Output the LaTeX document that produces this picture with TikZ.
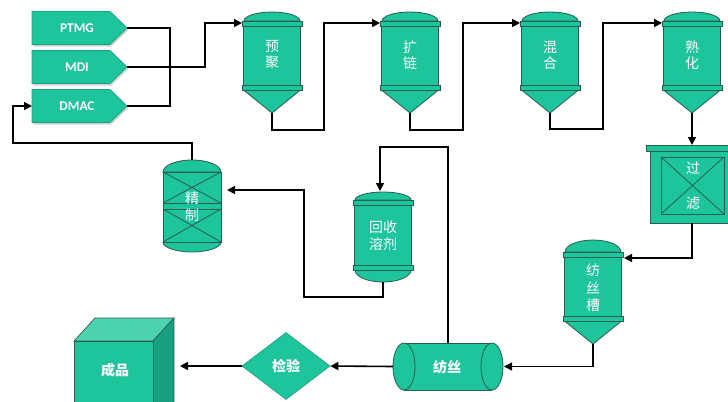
\documentclass[tikz,border=0pt]{standalone}
\usepackage{fontspec}
\setmainfont{Carlito}
\newfontfamily\cjk{Noto Sans CJK SC}
\usetikzlibrary{arrows.meta,shapes.geometric,shadows}
\definecolor{tealc}{HTML}{1EC49B}
\definecolor{edgec}{HTML}{275E50}
\definecolor{cubetop}{HTML}{4DD3B0}
\definecolor{cubeside}{HTML}{17A181}
\definecolor{tagedge}{HTML}{17A27F}
\tikzset{
  flow/.style={line width=1.2pt, draw=black},
  arr/.style={flow, -{Triangle[length=6pt,width=6pt]}},
  tankst/.style={fill=tealc, draw=edgec, line width=0.6pt},
  edgeln/.style={draw=edgec, line width=0.6pt},
  tagst/.style={fill=tealc, draw=tagedge, line width=0.5pt,
    drop shadow={shadow xshift=1pt, shadow yshift=-1.5pt, opacity=0.35}},
  tagtext/.style={text=white, font=\bfseries\fontsize{10}{12}\selectfont, inner sep=0pt},
  lbl/.style={text=white, font=\cjk\fontsize{10.5}{12}\selectfont, inner sep=0pt, align=center},
  blbl/.style={text=white, font=\cjk\bfseries\fontsize{10.5}{12}\selectfont, inner sep=0pt, align=center},
}
\newcommand{\conetank}[4]{%
  \begin{scope}[shift={(#2,#3)}]
    \filldraw[tankst] (-28,0) arc[start angle=180,end angle=0,x radius=21pt,y radius=#4] -- cycle;
    \filldraw[tankst] (-28.5,5) rectangle (28.5,64);
    \filldraw[tankst] (-28.5,69) -- (0,92) -- (28.5,69) -- cycle;
    \filldraw[tankst] (-30,0) rectangle (30,5);
    \filldraw[tankst] (-30,64) rectangle (30,69);
    \coordinate (#1-in) at (-30,2);
    \coordinate (#1-r) at (31,6);
    \coordinate (#1-out) at (0,92);
  \end{scope}}
\newcommand{\tagbox}[3]{%
  \filldraw[tagst] (32,#2-16.5) -- (110,#2-16.5) -- (127,#2) -- (110,#2+16.5) -- (32,#2+16.5) -- cycle;
  \node[tagtext] (#1) at (77,#2) {#3};
  \coordinate (#1-tip) at (127,#2);
  \coordinate (#1-w) at (32,#2);}
\begin{document}
\begin{tikzpicture}[x=0.75pt,y=-0.75pt]
\useasboundingbox (0,0) rectangle (728,401);
\fill[white] (0,0) rectangle (728,401);

% input tags
\tagbox{ptmg}{28}{PTMG}
\tagbox{mdi}{67}{MDI}
\tagbox{dmac}{106}{DMAC}

% top tanks
\conetank{t1}{272}{21}{6.75pt}
\conetank{t2}{410}{21}{6.75pt}
\conetank{t3}{550}{21}{6.75pt}
\conetank{t4}{692}{21}{6.75pt}
\node[lbl] (t1l) at (272,55) {预\\聚};
\node[lbl] (t2l) at (410,55) {扩\\链};
\node[lbl] (t3l) at (550,55) {混\\合};
\node[lbl] (t4l) at (692,55) {熟\\化};

% filter
\filldraw[tankst] (646,145) rectangle (738,151);
\filldraw[tankst] (650,151) rectangle (734,223);
\filldraw[tankst] (661,157) rectangle (724,214);
\draw[edgeln] (661,157) -- (724,214) (661,214) -- (724,157);
\coordinate (flt-top) at (692,145);
\coordinate (flt-bot) at (692,223);
\node[lbl] (flt1) at (693,168) {过};
\node[lbl] (flt2) at (693,203) {滤};

% spinning tank
\conetank{sp}{593}{252}{9pt}
\node[lbl, font=\cjk\fontsize{10.5}{13}\selectfont] (spl) at (593,288) {纺\\丝\\槽};

% recovery tank
\filldraw[tankst] (355,200) arc[start angle=180,end angle=0,x radius=21pt,y radius=6pt] -- cycle;
\filldraw[tankst] (355,270) arc[start angle=180,end angle=360,x radius=21pt,y radius=9pt] -- cycle;
\filldraw[tankst] (354.5,205) rectangle (411.5,265);
\filldraw[tankst] (353,200) rectangle (413,205);
\filldraw[tankst] (353,265) rectangle (413,270);
\coordinate (rs-top) at (380,191);
\coordinate (rs-bot) at (383,282);
\node[lbl, font=\cjk\fontsize{10.5}{12.75}\selectfont] (rsl) at (383,235.5) {回收\\溶剂};

% refining column
\filldraw[tankst] (163,172) arc[start angle=180,end angle=0,x radius=21.75pt,y radius=9pt] -- cycle;
\filldraw[tankst] (163,242) arc[start angle=180,end angle=360,x radius=21.75pt,y radius=7.5pt] -- cycle;
\filldraw[tankst] (163,172) rectangle (221,242);
\draw[edgeln] (163,203) -- (221,203) (163,209) -- (221,209);
\draw[edgeln] (163,172) -- (221,203) (163,203) -- (221,172);
\draw[edgeln] (163,209) -- (221,242) (163,242) -- (221,209);
\coordinate (jz-top) at (192,160);
\coordinate (jz-r) at (227,190);
\node[lbl, font=\cjk\fontsize{10.5}{12.75}\selectfont] (jzl) at (192,206.5) {精\\制};

% spinning cylinder
\fill[tealc] (404,343) rectangle (492,390);
\draw[edgeln] (404,343) -- (492,343) (404,390) -- (492,390);
\filldraw[tankst] (404,366.5) ellipse[x radius=8.25pt, y radius=17.625pt];
\filldraw[tankst] (492,366.5) ellipse[x radius=8.25pt, y radius=17.625pt];
\coordinate (cyl-r) at (504,366.5);
\coordinate (cyl-l) at (393,366.5);
\coordinate (cyl-top) at (448,343);
\node[blbl] (cyl) at (447,367) {纺丝};

% inspection diamond
\node[diamond, fill=tealc, draw=tagedge, line width=0.5pt, minimum width=66pt,
  minimum height=50.25pt, inner sep=0pt, text=white,
  font=\cjk\bfseries\fontsize{10.5}{12}\selectfont] (chk) at (286,366) {检验};

% product cube
\filldraw[fill=cubetop, draw=edgec, line width=0.5pt] (74,341) -- (95,318) -- (174,318) -- (153,341) -- cycle;
\filldraw[fill=cubeside, draw=edgec, line width=0.5pt] (153,341) -- (174,318) -- (174,402) -- (153,425) -- cycle;
\filldraw[fill=tealc, draw=edgec, line width=0.5pt] (74,341) rectangle (153,425);
\coordinate (cube-r) at (180,366);
\node[blbl] (cube) at (115,370) {成品};

% connectors
\draw[flow] (ptmg-tip) -- (170,28) |- (dmac-tip);
\draw[arr] (mdi-tip) -- (205,67) |- (t1-in);
\draw[arr] (t1-out) |- (324,130) |- (t2-in);
\draw[arr] (t2-out) |- (463,130) |- (t3-in);
\draw[arr] (t3-out) |- (603,129) |- (t4-in);
\draw[arr] (t4-out) -- (flt-top);
\draw[arr] (flt-bot) |- (sp-r);
\draw[arr] (sp-out) |- (cyl-r);
\draw[arr] (cyl-top) -- (448,147) -| (rs-top);
\draw[arr] (rs-bot) |- (304,297) |- (jz-r);
\draw[arr] (jz-top) |- (13,143) |- (dmac-w);
\draw[arr] (cyl-l) -- (chk.east);
\draw[arr] (chk.west) -- (cube-r);
\end{tikzpicture}
\end{document}
